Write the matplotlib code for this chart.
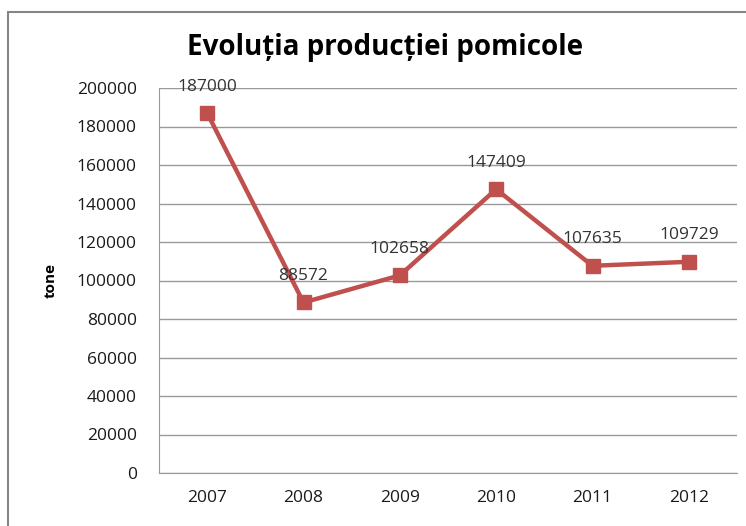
import matplotlib.pyplot as plt
from matplotlib.patches import Rectangle

years = ["2007", "2008", "2009", "2010", "2011", "2012"]
production = [187000, 88572, 102658, 147409, 107635, 109729]
y_ticks = list(range(0, 200001, 20000))

plt.rcParams["font.family"] = ["Open Sans", "DejaVu Sans"]

fig = plt.figure(figsize=(7.46, 5.26), dpi=100)
ax = fig.add_axes([159 / 746, 1 - 473 / 526, (737 - 159) / 746, (473 - 88) / 526])

# chart frame, cut off at right and bottom
fig.patches.append(
    Rectangle((8 / 746, -0.1), 1.2, 1 - 12 / 526 + 0.1,
              transform=fig.transFigure, fill=False,
              edgecolor="#868686", linewidth=1.5)
)

x = list(range(len(years)))
ax.plot(x, production, color="#C0504D", linewidth=3.2,
        marker="s", markersize=10, markerfacecolor="#C0504D",
        markeredgecolor="#C0504D")

for xi, v in zip(x, production):
    ax.annotate(str(v), (xi, v), xytext=(0, 19), textcoords="offset points",
                ha="center", va="center", fontsize=12.5, color="#333333")

ax.set_xlim(-0.5, len(years) - 0.5)
ax.set_ylim(0, 200000)
ax.set_yticks(y_ticks)
ax.set_yticklabels([str(t) for t in y_ticks])
ax.set_xticks(x)
ax.set_xticklabels(years)
ax.grid(axis="y", color="#999999", linewidth=1)
ax.set_axisbelow(True)
ax.tick_params(length=0, labelsize=12.5, colors="#1a1a1a", pad=16)
ax.tick_params(axis="x", pad=12)
for side in ["top", "right"]:
    ax.spines[side].set_visible(False)
ax.spines["left"].set_color("#999999")
ax.spines["bottom"].set_color("#999999")

ax.set_ylabel("tone", fontsize=11, fontweight="bold", labelpad=14)
fig.text(385 / 746, 1 - 47 / 526, "Evoluția producției pomicole",
         ha="center", va="center", fontsize=20, fontweight="bold")

fig.savefig("out.png", dpi=100)
